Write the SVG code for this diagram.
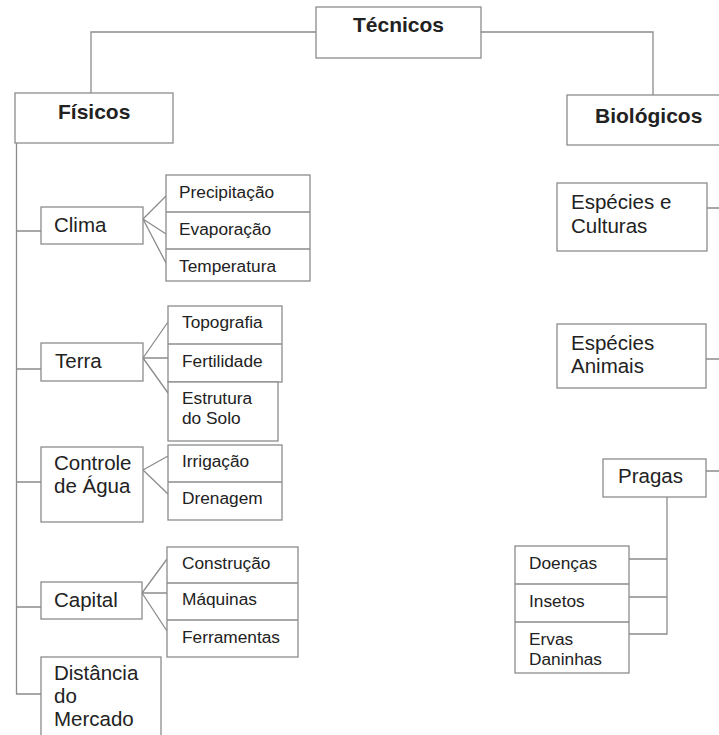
<svg xmlns="http://www.w3.org/2000/svg" width="719" height="735" viewBox="0 0 719 735">
<style>
.b{fill:#fff;stroke:#8c8c8c;stroke-width:1.3}
.c{fill:none;stroke:#8c8c8c;stroke-width:1.3}
text{font-family:"Liberation Sans",Arial,sans-serif;fill:#222}
.h{font-size:21px;font-weight:bold}
.m{font-size:20.5px}
.s{font-size:17.3px}
</style>
<rect width="719" height="735" fill="#fff"/>
<g id="connectors">
<path class="c" d="M316 32H91V93M481 32H653V95"/>
<path class="c" d="M16.5 143V694H41M16.5 231H41M16.5 369H41M16.5 482H41M16.5 607H41"/>
<path class="c" d="M143 219L166 196M143 219L166 234M143 219L166 263"/>
<path class="c" d="M143 358L168 322M143 358H168M143 358L168 393"/>
<path class="c" d="M143 470L168 456M143 470L168 494"/>
<path class="c" d="M142 593L167 559M142 593H167M142 593L167 631"/>
<path class="c" d="M707 208H719M706 359H719M706 471H719"/>
<path class="c" d="M667 497V634H629M667 559H629M667 597H629"/>
</g>
<g id="tecnicos"><rect class="b" x="316" y="7" width="165" height="51"/><text class="h" x="353" y="32">Técnicos</text></g>
<g id="fisicos"><rect class="b" x="15" y="93" width="158" height="50"/><text class="h" x="58" y="119">Físicos</text></g>
<g id="biologicos"><rect class="b" x="567" y="95" width="160" height="50"/><text class="h" x="595" y="123">Biológicos</text></g>
<g id="clima"><rect class="b" x="41" y="207" width="102" height="37"/><text class="m" x="54" y="232">Clima</text></g>
<g id="clima-sub"><rect class="b" x="166" y="175" width="144" height="106"/><path class="c" d="M166 212H310M166 249H310"/>
<text class="s" x="179" y="198">Precipitação</text><text class="s" x="179" y="235">Evaporação</text><text class="s" x="179" y="272">Temperatura</text></g>
<g id="terra"><rect class="b" x="41" y="343" width="102" height="38"/><text class="m" x="55" y="368">Terra</text></g>
<g id="terra-sub"><rect class="b" x="168" y="306" width="114" height="76"/><path class="c" d="M168 344H282"/><rect class="b" x="168" y="382" width="110" height="59"/>
<text class="s" x="182" y="328">Topografia</text><text class="s" x="182" y="367">Fertilidade</text><text class="s" x="182" y="404">Estrutura</text><text class="s" x="182" y="424">do Solo</text></g>
<g id="agua"><rect class="b" x="41" y="447" width="102" height="75"/><text class="m" x="54" y="470">Controle</text><text class="m" x="54" y="493">de Água</text></g>
<g id="agua-sub"><rect class="b" x="168" y="445" width="114" height="75"/><path class="c" d="M168 482H282"/>
<text class="s" x="182" y="467">Irrigação</text><text class="s" x="182" y="504">Drenagem</text></g>
<g id="capital"><rect class="b" x="41" y="582" width="101" height="37"/><text class="m" x="54" y="607">Capital</text></g>
<g id="capital-sub"><rect class="b" x="167" y="547" width="131" height="110"/><path class="c" d="M167 583H298M167 620H298"/>
<text class="s" x="182" y="569">Construção</text><text class="s" x="182" y="605">Máquinas</text><text class="s" x="182" y="643">Ferramentas</text></g>
<g id="distancia"><rect class="b" x="41" y="657" width="120" height="85"/><text class="m" x="54" y="680">Distância</text><text class="m" x="54" y="703">do</text><text class="m" x="54" y="726">Mercado</text></g>
<g id="culturas"><rect class="b" x="557" y="183" width="150" height="68"/><text class="m" x="571" y="209">Espécies e</text><text class="m" x="571" y="233">Culturas</text></g>
<g id="animais"><rect class="b" x="557" y="324" width="149" height="64"/><text class="m" x="571" y="350">Espécies</text><text class="m" x="571" y="373">Animais</text></g>
<g id="pragas"><rect class="b" x="603" y="459" width="103" height="38"/><text class="m" x="618" y="483">Pragas</text></g>
<g id="pragas-sub"><rect class="b" x="515" y="546" width="114" height="127"/><path class="c" d="M515 584H629M515 622H629"/>
<text class="s" x="529" y="569">Doenças</text><text class="s" x="529" y="607">Insetos</text><text class="s" x="529" y="645">Ervas</text><text class="s" x="529" y="665">Daninhas</text></g>
</svg>
